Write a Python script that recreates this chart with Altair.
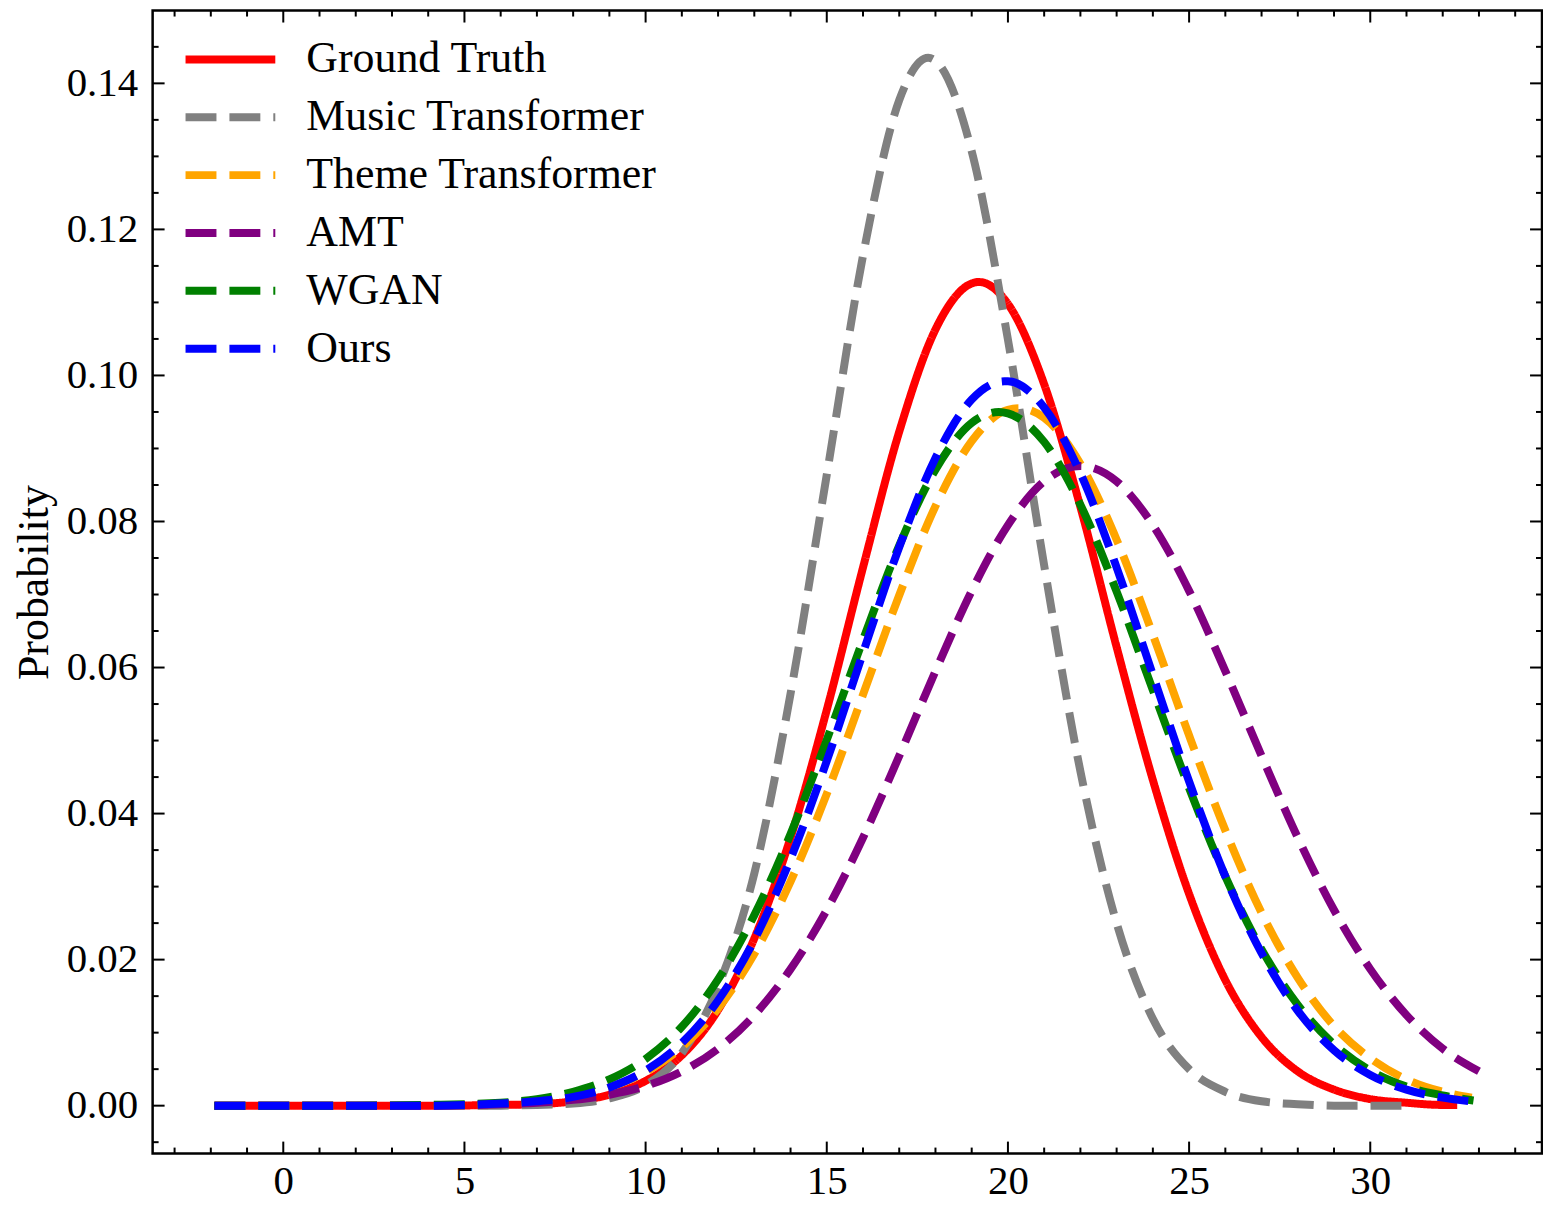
import altair as alt
import pandas as pd

SERIES = ["Ground Truth", "Music Transformer", "Theme Transformer", "AMT", "WGAN", "Ours"]
COLORS = ["#ff0000", "#808080", "#ffa500", "#800080", "#008000", "#0000ff"]
DASHES = [[1, 0], [31, 13], [31, 13], [31, 13], [31, 13], [31, 13]]

X_GT = [-1.9, 0, 2, 4, 6, 7, 8, 9, 10, 11, 12, 13, 14, 15, 16, 17, 18, 19, 19.2, 20, 21, 22, 23, 24, 25, 26, 27, 28, 29, 30, 31, 32, 32.4]
Y_GT = [0, 0, 0, 0, 0.0001, 0.0002, 0.0006, 0.0015, 0.0034, 0.0069, 0.0131, 0.0229, 0.0367, 0.0542, 0.0737, 0.0923, 0.1063, 0.1126, 0.1128, 0.1098, 0.0988, 0.0820, 0.0628, 0.0446, 0.0290, 0.0172, 0.0094, 0.0047, 0.0022, 0.0009, 0.0004, 0.0001, 0.0001]

X_MT = [-1.9, 0, 2, 4, 6, 7, 8, 9, 10, 11, 12, 13, 14, 15, 16, 17, 17.8, 18, 19, 20, 21, 22, 23, 24, 25, 26, 27, 28, 29, 30, 31.2]
Y_MT = [0, 0, 0, 0, 0, 0.0001, 0.0003, 0.0010, 0.0028, 0.0072, 0.0163, 0.0318, 0.0564, 0.0864, 0.1164, 0.1377, 0.1435, 0.1431, 0.1307, 0.1049, 0.0740, 0.0458, 0.0250, 0.0119, 0.0050, 0.0019, 0.0006, 0.0002, 0, 0, 0]

X_TT = [-1.9, 0, 2, 4, 6, 7, 8, 9, 10, 11, 12, 13, 14, 15, 16, 17, 18, 19, 20, 20.3, 21, 22, 23, 24, 25, 26, 27, 28, 29, 30, 31, 32, 32.8]
Y_TT = [0, 0, 0, 0, 0.0003, 0.0006, 0.0013, 0.0025, 0.0046, 0.0080, 0.0133, 0.0208, 0.0307, 0.0427, 0.0563, 0.0699, 0.0821, 0.0910, 0.0953, 0.0955, 0.0942, 0.0879, 0.0775, 0.0645, 0.0507, 0.0377, 0.0264, 0.0175, 0.0109, 0.0065, 0.0036, 0.0019, 0.0011]

X_AMT = [-1.9, 0, 2, 4, 6, 7, 8, 9, 10, 11, 12, 13, 14, 15, 16, 17, 18, 19, 20, 21, 22, 23, 24, 25, 26, 27, 28, 29, 30, 31, 32, 33.0]
Y_AMT = [0, 0, 0, 0, 0.0002, 0.0004, 0.0008, 0.0015, 0.0027, 0.0047, 0.0078, 0.0124, 0.0187, 0.0268, 0.0367, 0.0479, 0.0595, 0.0705, 0.0795, 0.0855, 0.0876, 0.0855, 0.0795, 0.0705, 0.0595, 0.0479, 0.0367, 0.0268, 0.0187, 0.0124, 0.0078, 0.0047]

X_WGAN = [-1.9, 0, 2, 4, 6, 7, 8, 9, 10, 11, 12, 13, 14, 15, 16, 17, 18, 19, 19.75, 20, 21, 22, 23, 24, 25, 26, 27, 28, 29, 30, 31, 32, 32.85]
Y_WGAN = [0, 0, 0, 0.0001, 0.0004, 0.0009, 0.0019, 0.0036, 0.0064, 0.0108, 0.0173, 0.0261, 0.0372, 0.0501, 0.0638, 0.0767, 0.0871, 0.0935, 0.0950, 0.0948, 0.0909, 0.0823, 0.0704, 0.0569, 0.0435, 0.0314, 0.0214, 0.0138, 0.0084, 0.0048, 0.0026, 0.0014, 0.0007]

X_OURS = [-1.9, 0, 2, 4, 6, 7, 8, 9, 10, 11, 12, 13, 14, 15, 16, 17, 18, 19, 19.9, 20, 21, 22, 23, 24, 25, 26, 27, 28, 29, 30, 31, 32, 32.75]
Y_OURS = [0, 0, 0, 0, 0.0003, 0.0006, 0.0012, 0.0025, 0.0048, 0.0086, 0.0144, 0.0227, 0.0338, 0.0472, 0.0620, 0.0765, 0.0887, 0.0967, 0.0992, 0.0992, 0.0956, 0.0866, 0.0737, 0.0590, 0.0444, 0.0314, 0.0209, 0.0130, 0.0076, 0.0042, 0.0022, 0.0011, 0.0006]

X_MAJOR = [0, 5, 10, 15, 20, 25, 30]
X_MINOR = [-3, -2, -1, 1, 2, 3, 4, 6, 7, 8, 9, 11, 12, 13, 14, 16, 17, 18, 19, 21, 22, 23, 24, 26, 27, 28, 29, 31, 32, 33, 34]
Y_MAJOR = [0.0, 0.02, 0.04, 0.06, 0.08, 0.10, 0.12, 0.14]
Y_MINOR = [-0.005, 0.005, 0.01, 0.015, 0.025, 0.03, 0.035, 0.045, 0.05, 0.055, 0.065, 0.07, 0.075,
           0.085, 0.09, 0.095, 0.105, 0.11, 0.115, 0.125, 0.13, 0.135, 0.145]

XS = [X_GT, X_MT, X_TT, X_AMT, X_WGAN, X_OURS]
YS = [Y_GT, Y_MT, Y_TT, Y_AMT, Y_WGAN, Y_OURS]

rows = []
for name, xs, ys in zip(SERIES, XS, YS):
    for i, (a, b) in enumerate(zip(xs, ys)):
        rows.append({"series": name, "x": a, "y": b, "order": i})
df = pd.DataFrame(rows)

W, H = 1393, 1146
FONT = "Liberation Serif"
xscale = alt.Scale(domain=[-3.606, 34.74], nice=False, zero=False)
yscale = alt.Scale(domain=[-0.00656, 0.14997], nice=False, zero=False)
xaxis = alt.Axis(values=X_MAJOR, format="d", title=None, labelPadding=8)
yaxis = alt.Axis(values=Y_MAJOR, format=".2f", title="Probability", labelPadding=15, titlePadding=10)

# long legend line drawn by a custom path: unit path spans 6 units -> 3 * sqrt(size)
legend = alt.Legend(title=None, orient="none", legendX=56, legendY=27, symbolType="M-3,0H3",
                    symbolSize=900, symbolStrokeWidth=8, labelFontSize=44, labelFont=FONT,
                    labelColor="black", rowPadding=14, labelOffset=54, padding=0,
                    symbolLimit=0, labelLimit=0)

lines = alt.Chart(df).mark_line(strokeWidth=8, interpolate="monotone", clip=True).encode(
    x=alt.X("x:Q", scale=xscale, axis=xaxis),
    y=alt.Y("y:Q", scale=yscale, axis=yaxis),
    color=alt.Color("series:N", scale=alt.Scale(domain=SERIES, range=COLORS), legend=legend),
    strokeDash=alt.StrokeDash("series:N", scale=alt.Scale(domain=SERIES, range=DASHES), legend=legend),
    order="order:Q",
)


def xticks(values, length, top):
    return alt.Chart(pd.DataFrame({"x": values})).mark_rule(color="black", strokeWidth=2).encode(
        x=alt.X("x:Q", scale=xscale, axis=xaxis),
        y=alt.value(0 if top else H),
        y2=alt.value(length if top else H - length),
    )


def yticks(values, length, right):
    return alt.Chart(pd.DataFrame({"y": values})).mark_rule(color="black", strokeWidth=2).encode(
        y=alt.Y("y:Q", scale=yscale, axis=yaxis),
        x=alt.value(W - length if right else 0),
        x2=alt.value(W if right else length),
    )


layers = [lines,
          xticks(X_MAJOR, 12, False), xticks(X_MINOR, 6, False),
          xticks(X_MAJOR, 12, True), xticks(X_MINOR, 6, True),
          yticks(Y_MAJOR, 12, False), yticks(Y_MINOR, 6, False),
          yticks(Y_MAJOR, 12, True), yticks(Y_MINOR, 6, True)]

chart = alt.layer(*layers).properties(
    width=W, height=H, padding={"left": 4, "top": 0, "right": 0, "bottom": 0}
).configure_view(
    stroke="black", strokeWidth=2.5
).configure_axis(
    domain=False, ticks=False, grid=False, labelFont=FONT, labelFontSize=41, labelColor="black",
    titleFont=FONT, titleFontSize=44, titleFontWeight="normal", titleColor="black"
).configure_legend(
    labelFont=FONT
)

chart.save("out.html", embed_options={"renderer": "svg", "actions": False})
